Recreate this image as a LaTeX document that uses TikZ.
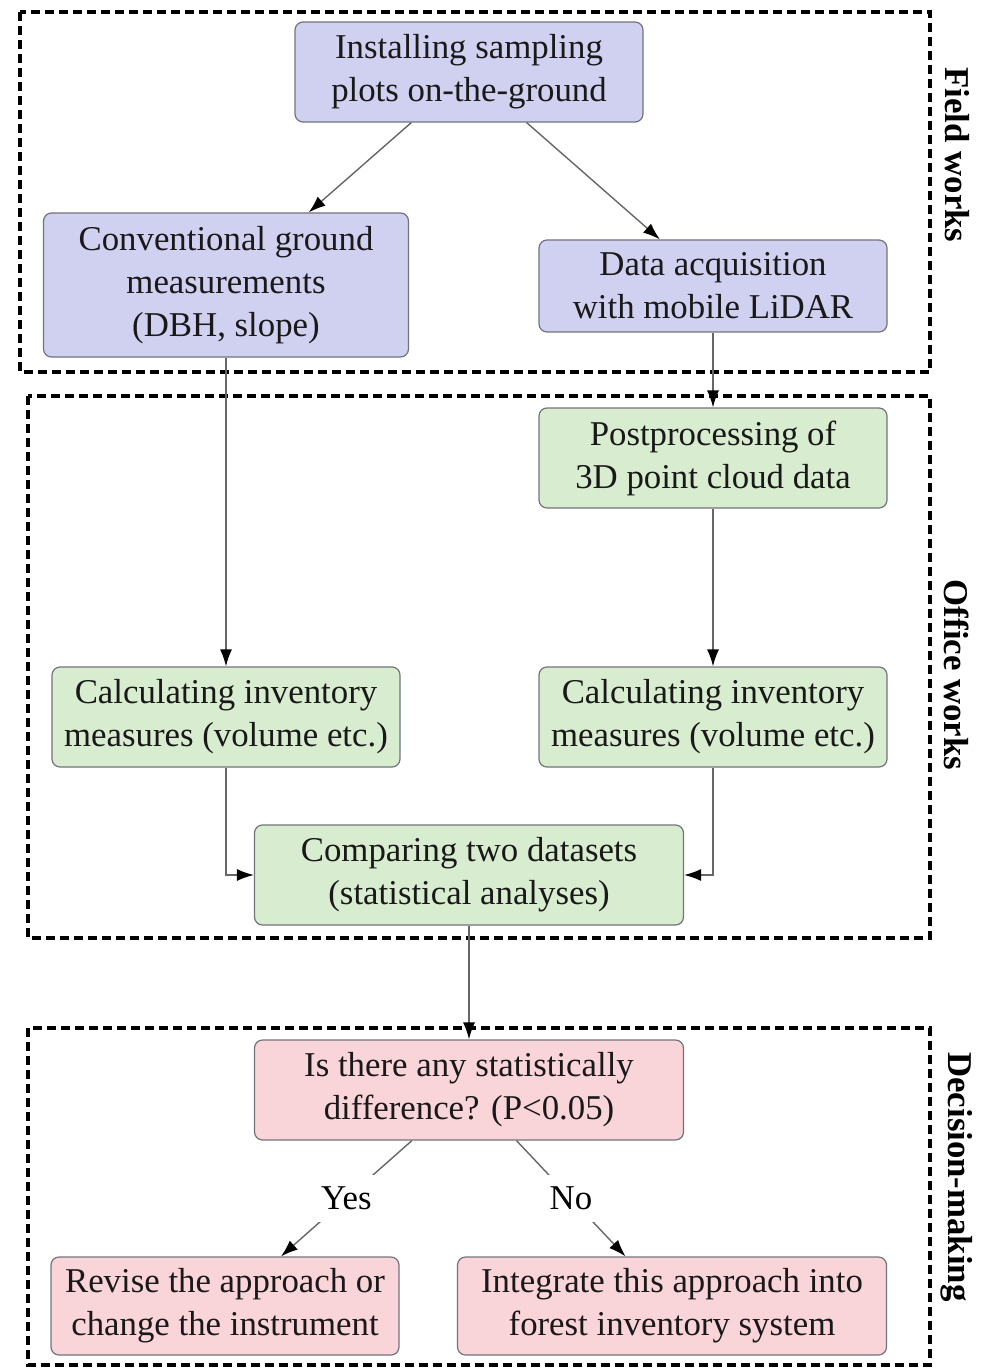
\documentclass[tikz,border=0pt]{standalone}
\usepackage{fontspec}
\setmainfont{Liberation Serif}
\usepackage{tikz}
\usetikzlibrary{arrows.meta}

\definecolor{fieldblue}{RGB}{208,208,240}
\definecolor{officegreen}{RGB}{216,236,208}
\definecolor{decisionred}{RGB}{249,212,216}
\definecolor{boxborder}{RGB}{115,115,125}

\begin{document}
\begin{tikzpicture}[x=0.5pt,y=-0.5pt,->,>={Latex[length=8.5pt,width=6pt,color=black]},
  box/.style={rectangle,rounded corners=4pt,draw=boxborder,line width=0.6pt,align=center,
    minimum width=174pt,minimum height=50pt,inner sep=2pt,text=black!90,
    font=\fontsize{17.4}{21.5}\selectfont},
  field node/.style={box,fill=fieldblue},
  office node/.style={box,fill=officegreen},
  decision node/.style={box,fill=decisionred},
  frame/.style={-,draw=black,line width=1.7pt,dash pattern=on 4.5pt off 2.5pt},
  side label/.style={rotate=-90,font=\bfseries\fontsize{17.4}{20}\selectfont}]

  \useasboundingbox (0,0) rectangle (986,1369);

  % frames
  \draw[frame] (20,12) rectangle (930,372);
  \draw[frame] (28,396) rectangle (930,938);
  \draw[frame] (28,1028) rectangle (930,1365);

  \node[side label] (field) at (957,155) {Field works};
  \node[side label] (office) at (957,675) {Office works};
  \node[side label] (decision) at (957,1177) {Decision-making};

  % field works
  \node[field node] (install) at (469,72) {Installing sampling\\plots on-the-ground};
  \node[field node,minimum width=182.5pt,minimum height=72pt] (conv) at (226,285)
    {Conventional ground\\measurements\\(DBH, slope)};
  \node[field node,minimum height=46pt] (lidar) at (713,286) {Data acquisition\\with mobile LiDAR};

  % office works
  \node[office node] (post) at (713,458) {Postprocessing of\\3D point cloud data};
  \node[office node] (calcl) at (226,717) {Calculating inventory\\measures (volume etc.)};
  \node[office node] (calcr) at (713,717) {Calculating inventory\\measures (volume etc.)};
  \node[office node,minimum width=214.5pt] (compare) at (469,875) {Comparing two datasets\\(statistical analyses)};

  % decision-making
  \node[decision node,minimum width=214.5pt] (test) at (469,1090) {Is there any statistically\\difference? (P<0.05)};
  \node[decision node,minimum height=49pt] (revise) at (225,1306) {Revise the approach or\\change the instrument};
  \node[decision node,minimum width=214.5pt,minimum height=49pt] (integrate) at (672,1306)
    {Integrate this approach into\\forest inventory system};

  \path[draw=black!60,line width=0.7pt,
    every node/.style={fill=white,inner sep=6pt,font=\fontsize{17.4}{20}\selectfont}]
    (install) edge (conv)
              edge (lidar)
    (lidar) edge (post)
    (conv) edge (calcl)
    (post) edge (calcr)
    (compare) edge (test)
    (test) edge node {Yes} (revise)
           edge node {No} (integrate);

  \draw[draw=black!60,line width=0.7pt] (calcl) |- (compare);
  \draw[draw=black!60,line width=0.7pt] (calcr) |- (compare);
\end{tikzpicture}
\end{document}
